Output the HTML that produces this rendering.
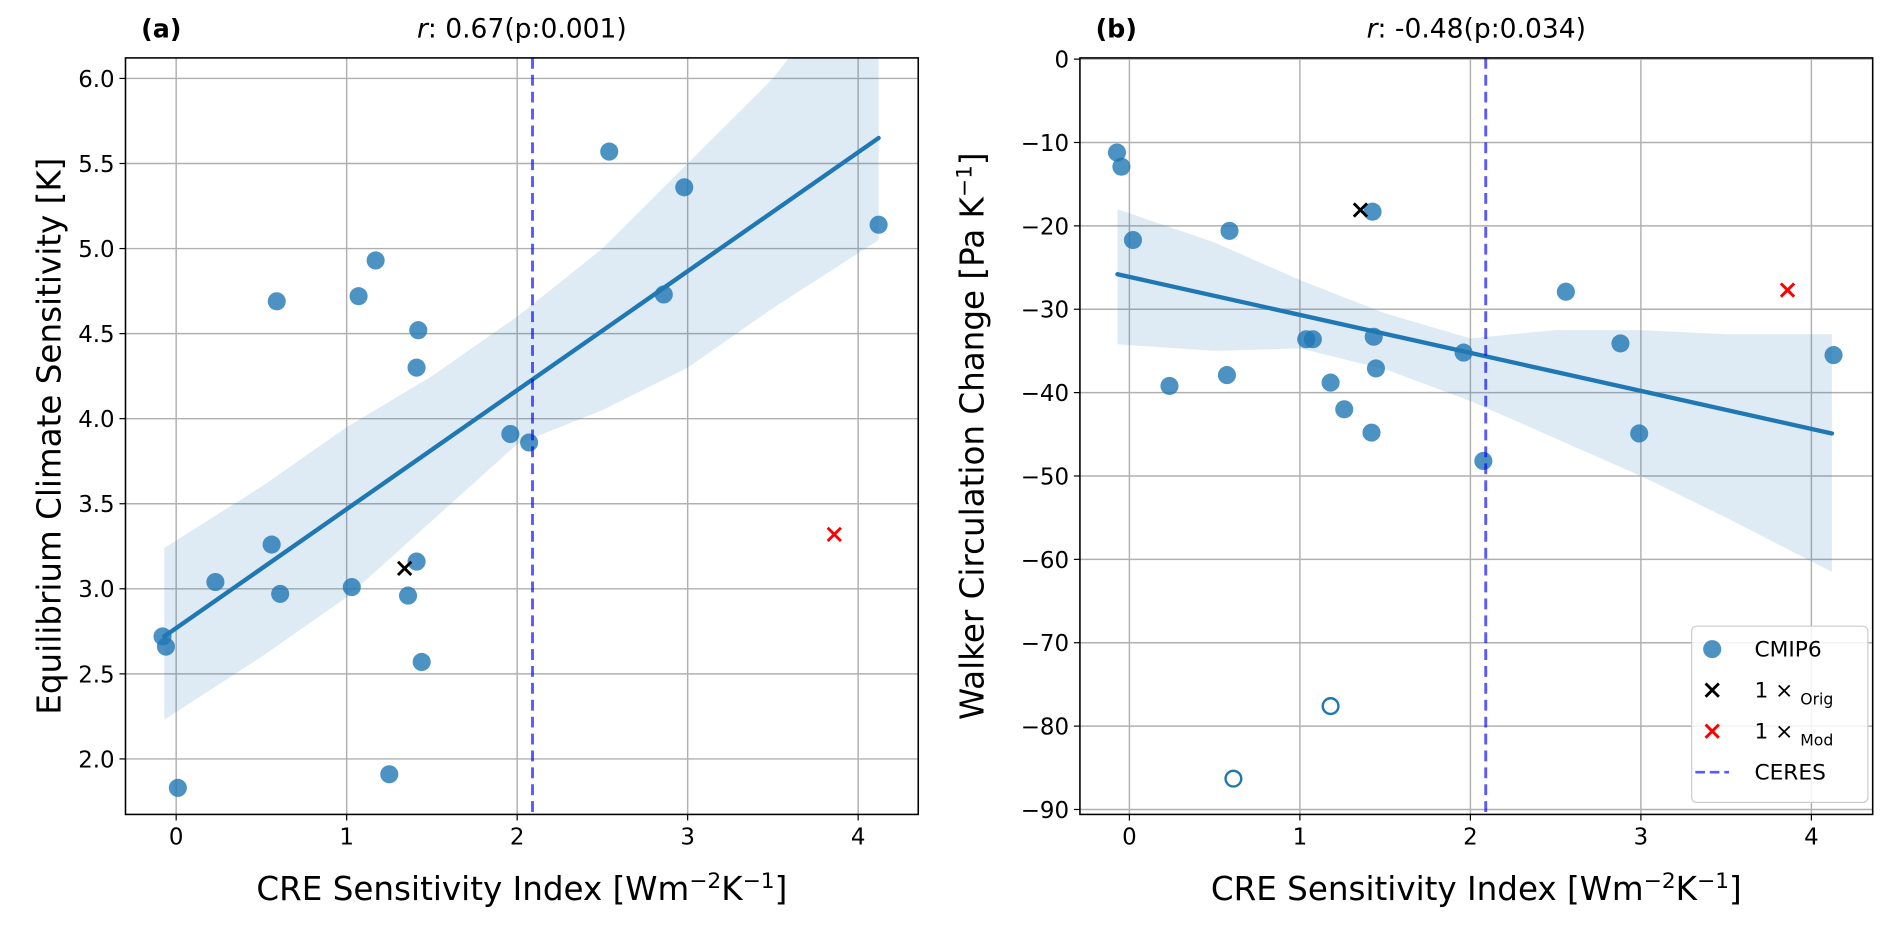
<!DOCTYPE html>
<html><head><meta charset="utf-8"><style>
html,body{margin:0;padding:0;background:#fff}
svg{display:block}
text{font-family:"DejaVu Sans","Liberation Sans",sans-serif;fill:#000}
</style></head><body>
<svg id="fig" width="1892" height="927" viewBox="0 0 1568 768.3" preserveAspectRatio="none" xmlns="http://www.w3.org/2000/svg"></svg>
<script>
// ---- Panel (a) data ----
const aX = [-0.08,-0.06,0.01,0.23,0.56,0.59,0.61,1.03,1.07,1.17,1.25,1.36,1.41,1.42,1.41,1.44,1.96,2.07,2.54,2.86,2.98,4.12];
const aY = [2.72,2.66,1.83,3.04,3.26,4.69,2.97,3.01,4.72,4.93,1.91,2.96,3.16,4.52,4.30,2.57,3.91,3.86,5.57,4.73,5.36,5.14];
const aOrig = [1.34,3.12];
const aMod = [3.86,3.32];
const aFit = [[-0.07,2.72],[4.12,5.65]];
const aBandX = [-0.07,0.5,1,1.5,2,2.5,3,3.5,4.12];
const aBandLo = [2.23,2.6,2.95,3.4,3.85,4.05,4.3,4.65,5.05];
const aBandHi = [3.24,3.6,3.95,4.25,4.6,5.0,5.5,6.0,6.8];
const aYTicks = [2.0,2.5,3.0,3.5,4.0,4.5,5.0,5.5,6.0];
// ---- Panel (b) data ----
const bX = [-0.073,-0.047,0.021,0.587,0.235,0.572,1.037,1.076,1.18,1.26,1.426,1.433,1.446,1.42,1.96,2.076,2.56,2.88,2.99,4.13];
const bY = [-11.2,-12.9,-21.7,-20.6,-39.2,-37.9,-33.6,-33.6,-38.8,-42.0,-18.3,-33.3,-37.1,-44.8,-35.2,-48.2,-27.9,-34.1,-44.9,-35.5];
const bOutX = [0.61,1.18];
const bOutY = [-86.3,-77.6];
const bOrig = [1.355,-18.1];
const bMod = [3.86,-27.7];
const bFit = [[-0.07,-25.8],[4.12,-44.9]];
const bBandX = [-0.07,0.5,1,1.5,2,2.5,3,3.5,4.12];
const bBandLo = [-34.2,-35,-34.7,-37.2,-41,-45.5,-50,-55,-61.5];
const bBandHi = [-18,-22,-26.5,-30.5,-33.5,-32.5,-32.5,-33,-33];
const bYTicks = [-90,-80,-70,-60,-50,-40,-30,-20,-10,0];
const xTicks = [0,1,2,3,4];
const ceres = 2.09;

const NS="http://www.w3.org/2000/svg";
const svg=document.getElementById('fig');
function el(tag,attrs,parent){const e=document.createElementNS(NS,tag);for(const k in attrs)e.setAttribute(k,attrs[k]);(parent||svg).appendChild(e);return e;}
const C='#1f77b4';
const TF=19, LF=27;

function panel(cfg){
  const g=el('g',{});
  
  
  const L=cfg.left,R=cfg.left+657,T=48,B=675;
  const sx=v=>cfg.x0px+v*141.3;
  const sy=v=>cfg.y0px+(v-cfg.y0)*cfg.ypu;
  const clip=el('clipPath',{id:'clip'+cfg.id},g);
  el('rect',{x:L,y:T,width:R-L,height:B-T},clip);
  xTicks.forEach(t=>{const l=el('line',{x1:sx(t),x2:sx(t),y1:T,y2:B,stroke:'#b0b0b0','stroke-width':1.2},g);
    
    });
  cfg.yticks.forEach(t=>{const l=el('line',{x1:L,x2:R,y1:sy(t),y2:sy(t),stroke:'#b0b0b0','stroke-width':1.2},g);
    
    });
  const plot=el('g',{'clip-path':'url(#clip'+cfg.id+')'},g);
  let d='';
  cfg.bx.forEach((x,i)=>{d+=(i?'L':'M')+sx(x)+','+sy(cfg.bhi[i]);});
  for(let i=cfg.bx.length-1;i>=0;i--)d+='L'+sx(cfg.bx[i])+','+sy(cfg.blo[i]);
  const band=el('path',{d:d+'Z',fill:C,'fill-opacity':0.15},plot);
  
  
  cfg.px.forEach((x,i)=>{const c=el('circle',{cx:sx(x),cy:sy(cfg.py[i]),r:7.5,fill:C,'fill-opacity':0.8},plot);
    
    });
  if(cfg.ox){cfg.ox.forEach((x,i)=>{const c=el('circle',{cx:sx(x),cy:sy(cfg.oy[i]),r:6.5,fill:'none',stroke:C,'stroke-width':2},plot);
    
    });}
  const f=el('line',{x1:sx(cfg.fit[0][0]),y1:sy(cfg.fit[0][1]),x2:sx(cfg.fit[1][0]),y2:sy(cfg.fit[1][1]),stroke:C,'stroke-width':3.6,'stroke-linecap':'round'},plot);
  
  
  [[cfg.orig,'#000','orig-marker'],[cfg.mod,'#ff0000','mod-marker']].forEach(([p,col,nm])=>{
    const cx=sx(p[0]),cy=sy(p[1]),s=5.5;
    const m=el('path',{d:`M${cx-s},${cy-s}L${cx+s},${cy+s}M${cx-s},${cy+s}L${cx+s},${cy-s}`,stroke:col,'stroke-width':2.4},plot);
    
    });
  const cl=el('line',{x1:sx(ceres),x2:sx(ceres),y1:T,y2:B,stroke:'#0000ff','stroke-opacity':0.65,'stroke-width':2.4,'stroke-dasharray':'9,5'},plot);
  
  
  const fr=el('rect',{x:L,y:T,width:R-L,height:B-T,fill:'none',stroke:'#000','stroke-width':1.3},g);
  
  
  xTicks.forEach(t=>{el('line',{x1:sx(t),x2:sx(t),y1:B,y2:B+5,stroke:'#000','stroke-width':1},g);
    const tx=el('text',{x:sx(t),y:B+25,'font-size':TF,'text-anchor':'middle'},g);tx.textContent=t;
    
    });
  cfg.yticks.forEach(t=>{el('line',{x1:L-5,x2:L,y1:sy(t),y2:sy(t),stroke:'#000','stroke-width':1},g);
    const tx=el('text',{x:L-9,y:sy(t)+7,'font-size':TF,'text-anchor':'end'},g);
    tx.textContent=cfg.fmt(t);
    
    });
  const cx=(L+R)/2;
  const xl=el('text',{x:cx,y:746,'font-size':LF,'text-anchor':'middle'},g);
  xl.innerHTML='CRE Sensitivity Index [Wm<tspan dy="-10" font-size="18">−2</tspan><tspan dy="10">K</tspan><tspan dy="-10" font-size="18">−1</tspan><tspan dy="10">]</tspan>';
  
  
  const yl=el('text',{x:0,y:0,'font-size':LF,'text-anchor':'middle',transform:`translate(${cfg.ylx},${(T+B)/2}) rotate(-90)`},g);
  yl.innerHTML=cfg.ylabel;
  
  
  const tl=el('text',{x:cx,y:31,'font-size':22,'text-anchor':'middle'},g);
  tl.innerHTML='<tspan font-style="italic">r</tspan>: '+cfg.r;
  
  
  const pl=el('text',{x:L+13,y:31,'font-size':21,'font-weight':'bold',fill:'#333'},g);
  pl.textContent=cfg.tag;
  
  
}
panel({id:'a',name:'panel-a',left:104,x0px:146,y0:6.0,y0px:65,ypu:-141,yticks:aYTicks,fmt:t=>t.toFixed(1),
  px:aX,py:aY,orig:aOrig,mod:aMod,fit:aFit,bx:aBandX,blo:aBandLo,bhi:aBandHi,
  ylx:50,ylabel:'Equilibrium Climate Sensitivity [K]',r:'0.67(p:0.001)',tag:'(a)'});
panel({id:'b',name:'panel-b',left:895,x0px:936,y0:0,y0px:49,ypu:-6.91,yticks:bYTicks,fmt:t=>t<0?'−'+(-t):String(t),
  px:bX,py:bY,ox:bOutX,oy:bOutY,orig:bOrig,mod:bMod,fit:bFit,bx:bBandX,blo:bBandLo,bhi:bBandHi,
  ylx:815,ylabel:'Walker Circulation Change [Pa K<tspan dy="-10" font-size="18">−1</tspan><tspan dy="10">]</tspan>',r:'-0.48(p:0.034)',tag:'(b)'});

const lg=el('g',{});


el('rect',{x:1402,y:519,width:146,height:146,rx:4,fill:'#fff','fill-opacity':0.85,stroke:'#ccc','stroke-width':1},lg);
const entries=[['CMIP6','dot'],['1 × ','orig','Orig'],['1 × ','mod','Mod'],['CERES','dash']];
entries.forEach((e,i)=>{
  const y=538+i*34;
  const gi=el('g',{},lg);
  
  
  if(e[1]=='dot')el('circle',{cx:1419,cy:y,r:7.5,fill:C,'fill-opacity':0.8},gi);
  else if(e[1]=='dash')el('line',{x1:1405,x2:1433,y1:y,y2:y,stroke:'#0000ff','stroke-opacity':0.65,'stroke-width':2.2,'stroke-dasharray':'8,4'},gi);
  else{const col=e[1]=='orig'?'#000':'#ff0000',s=5.5;el('path',{d:`M${1419-s},${y-s}L${1419+s},${y+s}M${1419-s},${y+s}L${1419+s},${y-s}`,stroke:col,'stroke-width':2.4},gi);}
  const t=el('text',{x:1454,y:y+6,'font-size':18},gi);
  t.innerHTML=e[2]?e[0]+'<tspan dy="6" font-size="13">'+e[2]+'</tspan>':e[0];
});
</script>
</body></html>
